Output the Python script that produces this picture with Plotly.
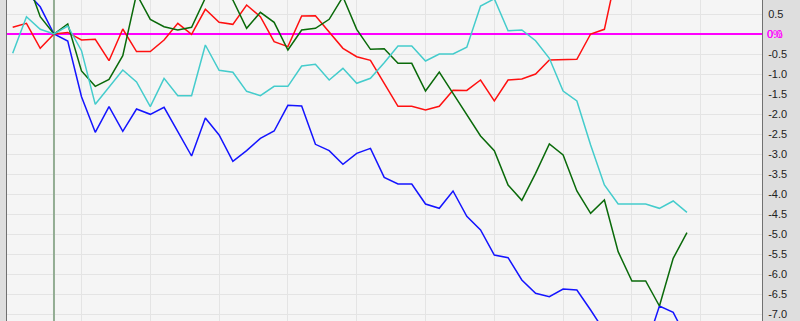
import plotly.graph_objects as go

days = list(range(50))

blue = [1.2, 1.05, 0.68, 0.0, -0.175, -1.567, -2.458, -1.817, -2.433, -1.875,
        -2.008, -1.833, -2.442, -3.05, -2.1, -2.525, -3.183, -2.917, -2.608, -2.425,
        -1.783, -1.8, -2.758, -2.917, -3.258, -2.983, -2.858, -3.583, -3.75, -3.75,
        -4.25, -4.358, -3.925, -4.56, -4.9, -5.525, -5.592, -6.15, -6.483, -6.567,
        -6.375, -6.4, -6.9, -7.43, -7.6, -7.9, -7.85, -6.8, -6.958, -7.63]

red = [0.167, 0.267, -0.358, 0.0, 0.04, -0.15, -0.133, -0.667, 0.125, -0.44,
       -0.44, -0.15, 0.267, -0.008, 0.617, 0.292, 0.242, 0.725, 0.433, -0.192,
       -0.317, 0.45, 0.458, 0.05, -0.358, -0.567, -0.658, -1.233, -1.808, -1.808,
       -1.9, -1.808, -1.408, -1.41, -1.15, -1.675, -1.15, -1.125, -1.0, -0.65,
       -0.633, -0.633, 0.0, 0.117, 1.7, 1.9, 2.0, 2.2, 2.1, 2.3]

green = [1.6, 1.39, 0.433, 0.0, 0.25, -0.925, -1.308, -1.133, -0.542, 1.0,
         0.367, 0.183, 0.1, 0.167, 0.9, 1.1, 0.85, 0.142, 0.542, 0.292,
         -0.4, 0.1, 0.142, 0.367, 0.93, 0.117, -0.383, -0.367, -0.733, -0.733,
         -1.425, -0.95, -1.483, -2.01, -2.55, -2.917, -3.775, -4.158, -3.483, -2.75,
         -3.025, -3.925, -4.483, -4.15, -5.442, -6.175, -6.175, -6.8, -5.608, -4.967]

cyan = [-0.483, 0.433, 0.117, 0.0, 0.2, -0.417, -1.758, -1.333, -0.9, -1.2,
        -1.817, -1.108, -1.542, -1.542, -0.275, -0.908, -0.958, -1.433, -1.542, -1.308,
        -1.308, -0.8, -0.758, -1.15, -0.858, -1.233, -1.108, -0.717, -0.3, -0.3,
        -0.675, -0.5, -0.5, -0.33, 0.7, 0.88, 0.083, 0.1, -0.167, -0.608,
        -1.425, -1.675, -2.775, -3.775, -4.25, -4.25, -4.25, -4.358, -4.175, -4.458]

y_ticks = [0.5, -0.5, -1.0, -1.5, -2.0, -2.5, -3.0, -3.5, -4.0, -4.5, -5.0,
           -5.5, -6.0, -6.5, -7.0]
y_labels = [f"{v:.1f}" for v in y_ticks]
x_grid = [5, 10, 15, 20, 25, 30, 35, 40, 45, 50]
y_range = [-7.175, 0.85]
base_day = 3

series = [("blue", blue, "#1414ff"), ("red", red, "#ff1010"),
          ("green", green, "#0a6a0a"), ("cyan", cyan, "#44cccc")]

fig = go.Figure()
# base-day marker line (drawn first, under the series)
fig.add_trace(go.Scatter(x=[base_day, base_day], y=[y_range[0] - 1, y_range[1] + 1],
                         mode="lines", line=dict(color="#93ad93", width=2),
                         hoverinfo="skip", showlegend=False))
for name, vals, col in series:
    fig.add_trace(go.Scatter(x=days, y=vals, mode="lines", name=name,
                             line=dict(color=col, width=1.5), hoverinfo="skip"))

for txt in ["0.0", "0%"]:
    fig.add_annotation(xref="paper", yref="y", x=1, y=0, xanchor="left",
                       xshift=3, text=txt, showarrow=False,
                       font=dict(family="Liberation Sans", size=11, color="#ff00ff"))

fig.update_layout(
    width=800, height=321,
    margin=dict(l=7, r=38, t=0, b=0),
    paper_bgcolor="#dedede", plot_bgcolor="#f5f5f5",
    showlegend=False,
    font=dict(family="Liberation Sans", size=11, color="#222222"),
)
fig.update_xaxes(range=[-0.414, 54.454], tickvals=x_grid, showticklabels=False,
                 showgrid=True, gridcolor="#e4e4e4", gridwidth=1, zeroline=False,
                 showline=False, ticks="")
fig.update_yaxes(range=y_range, side="right", tickvals=y_ticks,
                 ticktext=y_labels, showgrid=True, gridcolor="#e4e4e4", gridwidth=1,
                 zeroline=True, zerolinecolor="#ff00ff", zerolinewidth=1.5,
                 showline=True, linecolor="#707070", linewidth=1, mirror=True,
                 ticks="", ticklabelstandoff=3)

fig.write_html("out.html")
